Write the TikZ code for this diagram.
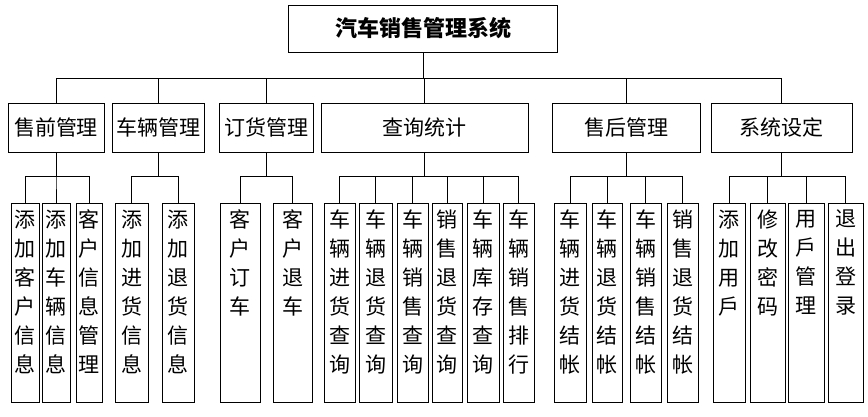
\documentclass[tikz,border=0pt]{standalone}
\usepackage{fontspec}
\setmainfont{Noto Sans CJK SC}
\begin{document}
\begin{tikzpicture}[x=1pt,y=-1pt,line width=0.8pt,
  l2/.style={draw,inner sep=0pt,minimum height=49pt,font=\fontsize{21}{25}\selectfont},
  leafbox/.style={draw,inner sep=0pt,minimum height=199pt},
  vtext/.style={font=\fontsize{21}{29}\selectfont,align=center,inner sep=0pt,anchor=north},
  link/.style={draw,line width=0.8pt}]
\useasboundingbox (0,0) rectangle (868,416);
\coordinate (bus1) at (0,78);
\coordinate (bus2) at (0,176);
% root
\node[draw,inner sep=0pt,minimum width=269pt,minimum height=47pt,font=\fontsize{22}{26}\selectfont\bfseries] (root) at (423,28.5) {汽车销售管理系统};
% level 2
\node[l2,minimum width=96pt] (s1) at (56,127.5) {售前管理};
\node[l2,minimum width=92pt] (s2) at (158,127.5) {车辆管理};
\node[l2,minimum width=94pt] (s3) at (266,127.5) {订货管理};
\node[l2,minimum width=207pt] (s4) at (424.5,127.5) {查询统计};
\node[l2,minimum width=148pt] (s5) at (626,127.5) {售后管理};
\node[l2,minimum width=141pt] (s6) at (781.5,127.5) {系统设定};
% leaves
\newcommand\leafnode[4]{%
  \node[leafbox,minimum width=#3pt] (#1) at (#2,302.5) {};
  \node[vtext] (t#1) at ([yshift=-7pt]#1.north) {#4};}
\leafnode{a1}{25}{28}{添\\加\\客\\户\\信\\息}
\leafnode{a2}{56}{28}{添\\加\\车\\辆\\信\\息}
\leafnode{a3}{89}{26}{客\\户\\信\\息\\管\\理}
\leafnode{b1}{131.5}{33}{添\\加\\进\\货\\信\\息}
\leafnode{b2}{178}{32}{添\\加\\退\\货\\信\\息}
\leafnode{c1}{240}{40}{客\\户\\订\\车}
\leafnode{c2}{292.5}{39}{客\\户\\退\\车}
\leafnode{d1}{339.5}{31}{车\\辆\\进\\货\\查\\询}
\leafnode{d2}{375.5}{33}{车\\辆\\退\\货\\查\\询}
\leafnode{d3}{412.5}{31}{车\\辆\\销\\售\\查\\询}
\leafnode{d4}{447}{30}{销\\售\\退\\货\\查\\询}
\leafnode{d5}{483}{32}{车\\辆\\库\\存\\查\\询}
\leafnode{d6}{518.5}{31}{车\\辆\\销\\售\\排\\行}
\leafnode{e1}{570}{32}{车\\辆\\进\\货\\结\\帐}
\leafnode{e2}{607}{30}{车\\辆\\退\\货\\结\\帐}
\leafnode{e3}{645.5}{31}{车\\辆\\销\\售\\结\\帐}
\leafnode{e4}{682.5}{31}{销\\售\\退\\货\\结\\帐}
\leafnode{f1}{729}{32}{添\\加\\用\\戶}
\leafnode{f2}{767.5}{35}{修\\改\\密\\码}
\leafnode{f3}{806}{36}{用\\戶\\管\\理}
\leafnode{f4}{845.5}{35}{退\\出\\登\\录}
% connectors
\foreach \c in {s1,s2,s3,s4,s5,s6}
  \draw[link] (root.south) -- (root.south |- bus1) -| (\c.north);
\foreach \c in {a1,a2,a3}
  \draw[link] (s1.south) -- (s1.south |- bus2) -| (\c.north);
\foreach \c in {b1,b2}
  \draw[link] (s2.south) -- (s2.south |- bus2) -| (\c.north);
\foreach \c in {c1,c2}
  \draw[link] (s3.south) -- (s3.south |- bus2) -| (\c.north);
\foreach \c in {d1,d2,d3,d4,d5,d6}
  \draw[link] (s4.south) -- (s4.south |- bus2) -| (\c.north);
\foreach \c in {e1,e2,e3,e4}
  \draw[link] (s5.south) -- (s5.south |- bus2) -| (\c.north);
\foreach \c in {f1,f2,f3,f4}
  \draw[link] (s6.south) -- (s6.south |- bus2) -| (\c.north);
\end{tikzpicture}
\end{document}
